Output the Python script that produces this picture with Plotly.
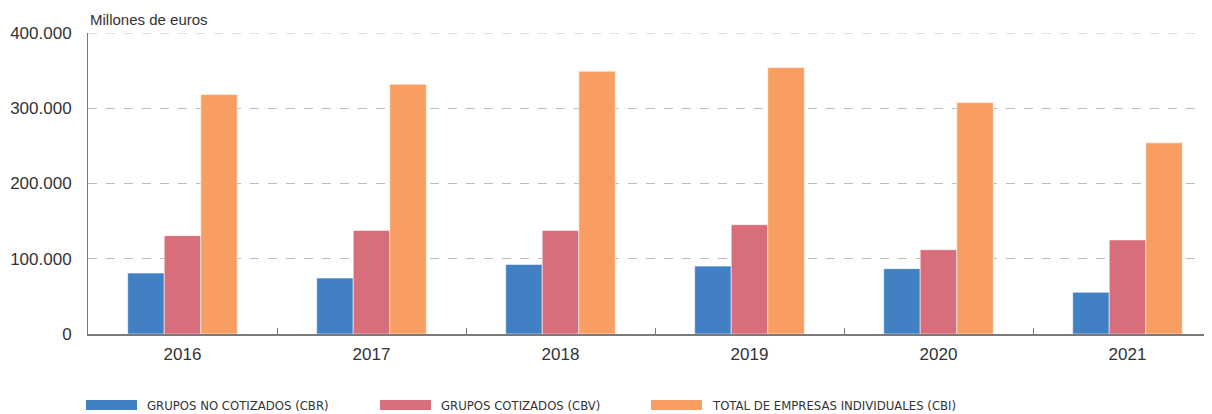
import plotly.graph_objects as go

years = ["2016", "2017", "2018", "2019", "2020", "2021"]
cbr = [81000, 74300, 92500, 90200, 86800, 55400]
cbv = [130700, 137700, 137700, 145300, 112000, 125000]
cbi = [318300, 332000, 349300, 354000, 307500, 254000]
names = ["GRUPOS NO COTIZADOS (CBR)", "GRUPOS COTIZADOS (CBV)", "TOTAL DE EMPRESAS INDIVIDUALES (CBI)"]
colors = ["#4180C3", "#D86D7B", "#F89E62"]
yticks = [0, 100000, 200000, 300000, 400000]

fig = go.Figure()
for vals, name, col in zip([cbr, cbv, cbi], names, colors):
    fig.add_trace(go.Bar(x=years, y=vals, name=name, marker_color=col,
                         marker_line=dict(color="rgba(255,255,255,0.55)", width=1),
                         showlegend=False))

OFF = 8  # page body margin
W, H = 1212 - OFF, 414 - OFF
L, T = 88 - OFF, 33 - OFF
PB = 334 - OFF  # plot bottom in figure px
B = H - PB
R = 0
PW, PH = W - L - R, PB - T

fig.update_layout(
    width=W, height=H, barmode="group", bargap=0.42, bargroupgap=0,
    margin=dict(l=L, r=R, t=T, b=B, autoexpand=False),
    plot_bgcolor="white", paper_bgcolor="white",
    separators=",.",
    font=dict(family="Liberation Sans, Arial, sans-serif", color="#333", size=17),
    xaxis=dict(type="category", range=[-0.5, -0.5 + PW / 189.0],
               showline=True, linecolor="#7a7a7a", linewidth=2,
               ticks="inside", tickson="boundaries", ticklen=6, tickcolor="#7a7a7a",
               tickwidth=1, showgrid=False, ticklabelstandoff=4,
               tickfont=dict(size=17, color="#333")),
    yaxis=dict(range=[0, 400000], tickvals=yticks, tickformat=",d",
               showline=True, linecolor="#7a7a7a", linewidth=1,
               showgrid=True, gridcolor="#bdbdbd", griddash="dash", gridwidth=1,
               zeroline=False, ticks="", ticklabelstandoff=12,
               tickfont=dict(size=17, color="#333")),
)

# top gridline at 400.000 (edge of range)
fig.add_shape(type="line", xref="paper", yref="y", x0=0, x1=1, y0=yticks[-1], y1=yticks[-1],
              line=dict(color="#bdbdbd", width=1, dash="dash"))

fig.add_annotation(text="Millones de euros", xref="paper", yref="paper",
                   x=0, y=1, yshift=3, xanchor="left", yanchor="bottom", showarrow=False,
                   font=dict(size=15, color="#333"))

# manual legend
sw_x = [86, 380, 651]
for x0, name, col in zip(sw_x, names, colors):
    fig.add_shape(type="rect", xref="paper", yref="paper",
                  x0=(x0 - 88) / PW, x1=(x0 + 51 - 88) / PW,
                  y0=(334 - 410) / PH, y1=(334 - 400) / PH,
                  fillcolor=col, line=dict(width=0))
    fig.add_annotation(text=name, xref="paper", yref="paper",
                       x=(x0 + 59 - 88) / PW, y=(334 - 405) / PH,
                       xanchor="left", yanchor="middle", showarrow=False,
                       font=dict(family="Liberation Sans Narrow, DejaVu Sans Condensed, Arial Narrow, sans-serif",
                                 size=13, color="#333"))

fig.write_html("out.html")
